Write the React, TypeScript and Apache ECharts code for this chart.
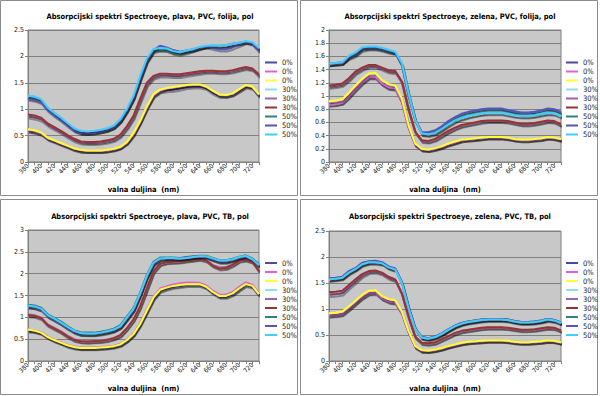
import React, { useEffect, useRef } from "react";
import * as echarts from "echarts";

const wavelengths = ["380","390","400","410","420","430","440","450","460","470","480","490","500","510","520","530","540","550","560","570","580","590","600","610","620","630","640","650","660","670","680","690","700","710","720","730"];
const seriesNames = ["0%", "0%", "0%", "30%", "30%", "30%", "50%", "50%", "50%"];
const seriesColors = ["#4b4b9b", "#e060d0", "#ffff33", "#8fdcec", "#9966aa", "#993333", "#338080", "#5555bb", "#44ccff"];
const axisName = "valna duljina  (nm)";

// Chart 1: plava, PVC, folija
const c1Navy = [0.59,0.57,0.53,0.44,0.39,0.34,0.29,0.24,0.21,0.21,0.21,0.21,0.22,0.24,0.28,0.37,0.53,0.76,1.03,1.25,1.34,1.36,1.37,1.39,1.42,1.43,1.43,1.4,1.31,1.25,1.25,1.28,1.35,1.43,1.4,1.25];
const c1Magenta = [0.6,0.58,0.54,0.45,0.4,0.35,0.3,0.25,0.22,0.21,0.21,0.21,0.22,0.24,0.28,0.37,0.53,0.76,1.03,1.26,1.35,1.39,1.41,1.43,1.45,1.46,1.46,1.42,1.34,1.27,1.26,1.29,1.37,1.45,1.42,1.27];
const c1Yellow = [0.62,0.6,0.56,0.46,0.41,0.36,0.31,0.26,0.23,0.22,0.22,0.22,0.23,0.25,0.29,0.38,0.55,0.78,1.05,1.28,1.37,1.4,1.42,1.44,1.46,1.47,1.47,1.43,1.35,1.28,1.27,1.3,1.38,1.46,1.43,1.28];
const c1Cyan = [1.24,1.22,1.17,1.01,0.91,0.82,0.72,0.62,0.57,0.56,0.57,0.59,0.62,0.67,0.79,0.99,1.24,1.6,1.93,2.12,2.14,2.13,2.08,2.07,2.1,2.13,2.17,2.19,2.2,2.19,2.2,2.23,2.25,2.28,2.26,2.15];
const c1Purple = [0.86,0.84,0.8,0.7,0.63,0.56,0.48,0.41,0.37,0.36,0.36,0.37,0.39,0.42,0.5,0.65,0.85,1.16,1.46,1.6,1.64,1.64,1.63,1.63,1.65,1.67,1.69,1.71,1.71,1.7,1.7,1.72,1.75,1.78,1.75,1.63];
const c1Red = [0.9,0.88,0.84,0.73,0.66,0.59,0.51,0.44,0.39,0.38,0.38,0.39,0.41,0.44,0.52,0.68,0.88,1.2,1.5,1.63,1.67,1.67,1.66,1.66,1.68,1.7,1.72,1.73,1.73,1.72,1.72,1.74,1.77,1.8,1.77,1.66];
const c1Teal = [1.22,1.2,1.15,1.0,0.9,0.81,0.71,0.61,0.56,0.55,0.56,0.58,0.61,0.66,0.78,0.98,1.22,1.58,1.91,2.1,2.13,2.12,2.07,2.05,2.08,2.12,2.16,2.19,2.2,2.2,2.21,2.24,2.26,2.28,2.25,2.12];
const c1Blue = [1.2,1.18,1.13,0.98,0.88,0.79,0.69,0.6,0.55,0.55,0.56,0.58,0.61,0.66,0.78,0.98,1.22,1.58,1.92,2.12,2.2,2.17,2.12,2.09,2.11,2.13,2.17,2.19,2.16,2.13,2.13,2.17,2.22,2.27,2.24,2.1];
const c1Sky = [1.26,1.24,1.19,1.03,0.93,0.84,0.74,0.64,0.59,0.58,0.59,0.61,0.64,0.69,0.81,1.01,1.26,1.63,1.96,2.14,2.16,2.15,2.1,2.08,2.11,2.14,2.18,2.2,2.21,2.2,2.21,2.24,2.26,2.29,2.27,2.16];

// Chart 2: zelena, PVC, folija
const c2Navy = [0.87,0.88,0.9,0.99,1.1,1.2,1.28,1.28,1.18,1.12,1.11,0.91,0.52,0.26,0.19,0.18,0.2,0.23,0.27,0.3,0.33,0.34,0.35,0.36,0.37,0.37,0.37,0.36,0.34,0.33,0.33,0.34,0.35,0.37,0.36,0.33];
const c2Magenta = [0.87,0.88,0.9,1.0,1.11,1.21,1.29,1.29,1.19,1.13,1.12,0.92,0.53,0.27,0.19,0.18,0.2,0.23,0.27,0.3,0.33,0.34,0.35,0.36,0.37,0.37,0.37,0.36,0.34,0.33,0.33,0.34,0.35,0.37,0.36,0.34];
const c2Yellow = [0.92,0.93,0.95,1.05,1.16,1.26,1.34,1.35,1.24,1.18,1.16,0.96,0.56,0.28,0.2,0.19,0.21,0.24,0.28,0.31,0.34,0.35,0.36,0.37,0.38,0.38,0.38,0.37,0.35,0.34,0.34,0.35,0.36,0.38,0.37,0.35];
const c2Cyan = [1.48,1.49,1.5,1.6,1.65,1.73,1.74,1.74,1.72,1.69,1.66,1.49,1.03,0.63,0.42,0.41,0.43,0.49,0.56,0.62,0.66,0.69,0.71,0.73,0.74,0.74,0.74,0.72,0.7,0.69,0.69,0.7,0.72,0.74,0.73,0.69];
const c2Purple = [1.14,1.15,1.17,1.25,1.35,1.41,1.45,1.45,1.41,1.37,1.36,1.2,0.78,0.45,0.32,0.31,0.34,0.4,0.46,0.51,0.55,0.57,0.59,0.61,0.62,0.62,0.62,0.61,0.59,0.57,0.57,0.58,0.6,0.62,0.61,0.56];
const c2Red = [1.16,1.17,1.19,1.27,1.37,1.43,1.47,1.47,1.43,1.39,1.38,1.22,0.8,0.46,0.33,0.32,0.35,0.41,0.47,0.52,0.56,0.58,0.6,0.62,0.63,0.63,0.63,0.62,0.6,0.58,0.58,0.59,0.61,0.63,0.62,0.57];
const c2Teal = [1.49,1.5,1.51,1.58,1.62,1.7,1.72,1.72,1.7,1.67,1.65,1.46,1.0,0.63,0.43,0.43,0.46,0.52,0.6,0.66,0.71,0.74,0.76,0.78,0.79,0.79,0.79,0.77,0.75,0.73,0.73,0.74,0.76,0.79,0.78,0.74];
const c2Blue = [1.48,1.49,1.5,1.59,1.64,1.72,1.73,1.73,1.71,1.68,1.66,1.48,1.02,0.65,0.45,0.45,0.48,0.54,0.62,0.68,0.73,0.76,0.78,0.8,0.81,0.81,0.81,0.79,0.77,0.75,0.75,0.76,0.78,0.81,0.8,0.76];
const c2Sky = [1.49,1.5,1.51,1.61,1.66,1.74,1.75,1.75,1.73,1.7,1.67,1.5,1.04,0.64,0.43,0.42,0.44,0.5,0.57,0.63,0.67,0.7,0.72,0.74,0.75,0.75,0.75,0.73,0.71,0.7,0.7,0.71,0.73,0.75,0.74,0.7];

// Chart 3: plava, PVC, TB
const c3Navy = [0.7,0.68,0.64,0.54,0.47,0.41,0.35,0.31,0.29,0.29,0.29,0.3,0.31,0.33,0.37,0.47,0.61,0.84,1.13,1.43,1.61,1.66,1.7,1.72,1.74,1.74,1.74,1.68,1.56,1.47,1.47,1.53,1.64,1.74,1.7,1.51];
const c3Magenta = [0.72,0.7,0.66,0.56,0.49,0.43,0.37,0.33,0.31,0.31,0.31,0.32,0.33,0.35,0.39,0.49,0.63,0.87,1.17,1.47,1.66,1.71,1.75,1.78,1.8,1.8,1.79,1.73,1.61,1.52,1.52,1.58,1.7,1.8,1.75,1.55];
const c3Yellow = [0.72,0.7,0.65,0.55,0.48,0.42,0.36,0.32,0.3,0.3,0.3,0.31,0.32,0.34,0.38,0.48,0.62,0.85,1.15,1.45,1.63,1.68,1.72,1.74,1.76,1.76,1.76,1.7,1.58,1.49,1.49,1.55,1.66,1.76,1.72,1.53];
const c3Cyan = [1.25,1.23,1.18,1.03,0.95,0.86,0.76,0.67,0.62,0.61,0.61,0.63,0.66,0.7,0.78,0.97,1.17,1.52,1.92,2.22,2.32,2.34,2.34,2.33,2.34,2.36,2.38,2.38,2.33,2.28,2.28,2.31,2.36,2.39,2.31,2.18];
const c3Purple = [1.07,1.05,1.0,0.84,0.76,0.68,0.58,0.5,0.46,0.45,0.46,0.47,0.49,0.53,0.6,0.76,0.96,1.26,1.66,2.06,2.23,2.27,2.28,2.29,2.31,2.33,2.35,2.31,2.2,2.14,2.15,2.22,2.31,2.34,2.28,2.08];
const c3Red = [1.05,1.03,0.98,0.82,0.74,0.66,0.56,0.48,0.45,0.44,0.45,0.46,0.48,0.52,0.59,0.75,0.95,1.25,1.65,2.05,2.22,2.26,2.27,2.28,2.3,2.32,2.34,2.3,2.18,2.12,2.13,2.2,2.3,2.32,2.27,2.06];
const c3Teal = [1.29,1.27,1.22,1.07,0.99,0.9,0.8,0.7,0.66,0.65,0.65,0.67,0.7,0.74,0.82,1.02,1.22,1.57,1.97,2.27,2.37,2.37,2.37,2.36,2.38,2.4,2.41,2.41,2.36,2.31,2.31,2.34,2.39,2.42,2.35,2.22];
const c3Blue = [1.25,1.23,1.18,1.03,0.95,0.86,0.76,0.67,0.62,0.62,0.62,0.64,0.67,0.71,0.79,0.98,1.18,1.53,1.93,2.23,2.33,2.35,2.35,2.35,2.37,2.39,2.4,2.39,2.33,2.28,2.28,2.32,2.37,2.4,2.32,2.18];
const c3Sky = [1.27,1.25,1.2,1.05,0.97,0.88,0.78,0.69,0.64,0.63,0.63,0.65,0.68,0.72,0.8,1.0,1.2,1.55,1.95,2.25,2.35,2.36,2.36,2.35,2.36,2.38,2.4,2.4,2.35,2.3,2.3,2.33,2.38,2.41,2.33,2.2];

// Chart 4: zelena, PVC, TB
const c4Navy = [0.87,0.88,0.9,1.0,1.11,1.22,1.3,1.31,1.2,1.14,1.12,0.91,0.55,0.27,0.19,0.19,0.21,0.24,0.28,0.31,0.34,0.36,0.37,0.38,0.39,0.39,0.39,0.38,0.36,0.35,0.35,0.36,0.37,0.39,0.38,0.35];
const c4Magenta = [0.88,0.89,0.91,1.01,1.12,1.23,1.31,1.32,1.21,1.15,1.13,0.92,0.56,0.28,0.2,0.19,0.21,0.24,0.28,0.31,0.34,0.36,0.37,0.38,0.39,0.39,0.39,0.38,0.36,0.35,0.35,0.36,0.37,0.39,0.38,0.35];
const c4Yellow = [0.92,0.93,0.95,1.05,1.16,1.27,1.35,1.36,1.25,1.19,1.17,0.95,0.58,0.29,0.21,0.2,0.22,0.25,0.29,0.32,0.35,0.37,0.38,0.39,0.4,0.4,0.4,0.39,0.37,0.36,0.36,0.37,0.38,0.4,0.39,0.36];
const c4Cyan = [1.56,1.57,1.59,1.69,1.76,1.85,1.89,1.89,1.87,1.79,1.75,1.49,1.01,0.61,0.44,0.42,0.45,0.51,0.59,0.66,0.71,0.74,0.76,0.78,0.79,0.79,0.79,0.78,0.75,0.73,0.73,0.74,0.76,0.79,0.77,0.72];
const c4Purple = [1.27,1.28,1.3,1.42,1.53,1.64,1.71,1.72,1.68,1.6,1.55,1.28,0.83,0.46,0.34,0.33,0.35,0.41,0.47,0.53,0.57,0.59,0.61,0.63,0.64,0.64,0.64,0.63,0.61,0.59,0.59,0.6,0.62,0.64,0.63,0.58];
const c4Red = [1.32,1.33,1.35,1.46,1.57,1.67,1.73,1.74,1.7,1.62,1.57,1.3,0.85,0.47,0.35,0.34,0.36,0.42,0.48,0.54,0.58,0.6,0.62,0.64,0.65,0.65,0.65,0.64,0.62,0.6,0.6,0.61,0.63,0.65,0.64,0.59];
const c4Teal = [1.58,1.59,1.61,1.72,1.78,1.88,1.91,1.92,1.89,1.81,1.77,1.51,1.03,0.63,0.46,0.44,0.47,0.53,0.61,0.68,0.73,0.76,0.78,0.8,0.81,0.81,0.81,0.8,0.77,0.75,0.75,0.76,0.78,0.81,0.79,0.74];
const c4Blue = [1.59,1.6,1.62,1.73,1.79,1.89,1.92,1.93,1.9,1.82,1.78,1.52,1.04,0.64,0.46,0.44,0.47,0.53,0.61,0.68,0.73,0.76,0.78,0.8,0.81,0.81,0.81,0.8,0.77,0.75,0.75,0.76,0.78,0.81,0.79,0.74];
const c4Sky = [1.57,1.58,1.6,1.7,1.77,1.86,1.9,1.9,1.88,1.8,1.76,1.5,1.02,0.62,0.45,0.43,0.46,0.52,0.6,0.67,0.72,0.75,0.77,0.79,0.8,0.8,0.8,0.79,0.76,0.74,0.74,0.75,0.77,0.8,0.78,0.73];

const FONT = "'DejaVu Sans Condensed', 'DejaVu Sans', sans-serif";

type Panel = {
  title: string;
  yMax: number;
  yStep: number;
  series: number[][];
  x: number;
  y: number;
  grid: { left: number; top: number; width: number; height: number };
  legendLeft: number;
  legendTop: number;
  titleTop: number;
};

const panels: Panel[] = [
  {
    title: "Absorpcijski spektri Spectroeye, plava, PVC, folija, pol",
    yMax: 2.5, yStep: 0.5,
    series: [c1Navy, c1Magenta, c1Yellow, c1Cyan, c1Purple, c1Red, c1Teal, c1Blue, c1Sky],
    x: 0, y: 0,
    grid: { left: 28, top: 30, width: 231, height: 132 },
    legendLeft: 265, legendTop: 58.5, titleTop: 7,
  },
  {
    title: "Absorpcijski spektri Spectroeye, zelena, PVC, folija, pol",
    yMax: 2, yStep: 0.2,
    series: [c2Navy, c2Magenta, c2Yellow, c2Cyan, c2Purple, c2Red, c2Teal, c2Blue, c2Sky],
    x: 300, y: 0,
    grid: { left: 29, top: 30, width: 232, height: 132 },
    legendLeft: 266, legendTop: 58.5, titleTop: 7,
  },
  {
    title: "Absorpcijski spektri Spectroeye, plava, PVC, TB, pol",
    yMax: 3, yStep: 0.5,
    series: [c3Navy, c3Magenta, c3Yellow, c3Cyan, c3Purple, c3Red, c3Teal, c3Blue, c3Sky],
    x: 0, y: 199,
    grid: { left: 28, top: 31, width: 231, height: 132 },
    legendLeft: 265, legendTop: 60, titleTop: 8,
  },
  {
    title: "Absorpcijski spektri Spectroeye, zelena, PVC, TB, pol",
    yMax: 2.5, yStep: 0.5,
    series: [c4Navy, c4Magenta, c4Yellow, c4Cyan, c4Purple, c4Red, c4Teal, c4Blue, c4Sky],
    x: 300, y: 199,
    grid: { left: 29, top: 32, width: 232, height: 131 },
    legendLeft: 266, legendTop: 60, titleTop: 8,
  },
];

function ChartPanel({ p }: { p: Panel }) {
  const ref = useRef<HTMLDivElement>(null);
  useEffect(() => {
    if (!ref.current) return;
    const chart = echarts.init(ref.current, undefined, { renderer: "svg" });
    const keys = seriesNames.map((n, i) => `${n}#${i}`);
    chart.setOption({
      animation: false,
      title: {
        text: p.title,
        left: "center",
        top: p.titleTop,
        textStyle: { fontSize: 7.5, fontWeight: "bold", color: "#000", fontFamily: FONT },
      },
      graphic: [
        {
          type: "rect",
          silent: true,
          shape: { x: 0.5, y: 0.5, width: 297, height: 195 },
          style: { fill: "none", stroke: "#8c8c8c", lineWidth: 1 },
        },
      ],
      grid: {
        left: p.grid.left,
        top: p.grid.top,
        width: p.grid.width,
        height: p.grid.height,
        show: true,
        backgroundColor: "#c8c8c8",
        borderColor: "#808080",
        borderWidth: 1,
      },
      legend: {
        orient: "vertical",
        left: p.legendLeft,
        top: p.legendTop,
        padding: 0,
        icon: "rect",
        itemWidth: 12,
        itemHeight: 2,
        itemGap: 1,
        data: keys,
        formatter: (name: string) => name.split("#")[0],
        textStyle: { fontSize: 7.5, color: "#222", fontFamily: FONT },
        selectedMode: false,
      },
      xAxis: {
        type: "category",
        data: wavelengths,
        boundaryGap: false,
        axisLine: { lineStyle: { color: "#808080" } },
        axisTick: { interval: 0, length: 3, lineStyle: { color: "#808080" } },
        axisLabel: { interval: 1, rotate: 45, fontSize: 6.5, color: "#222", margin: 3, fontFamily: FONT },
        name: axisName,
        nameLocation: "middle",
        nameGap: 23,
        nameTextStyle: { fontWeight: "bold", fontSize: 7.5, color: "#000", fontFamily: FONT },
      },
      yAxis: {
        type: "value",
        min: 0,
        max: p.yMax,
        interval: p.yStep,
        axisLine: { show: true, lineStyle: { color: "#808080" } },
        axisTick: { show: true, length: 3, lineStyle: { color: "#808080" } },
        splitLine: { lineStyle: { color: "#808080" } },
        axisLabel: { fontSize: 7, color: "#222", margin: 4, fontFamily: FONT },
      },
      series: p.series.map((d, i) => ({
        type: "line",
        name: keys[i],
        data: d,
        symbol: "none",
        showSymbol: false,
        lineStyle: {
          width: 2,
          color: seriesColors[i],
          shadowColor: "rgba(0,0,0,0.35)",
          shadowBlur: 1,
          shadowOffsetX: 1,
          shadowOffsetY: 2,
        },
        itemStyle: { color: seriesColors[i] },
        emphasis: { disabled: true },
      })),
    });
    return () => chart.dispose();
  }, [p]);
  return (
    <div
      ref={ref}
      style={{ position: "absolute", left: p.x, top: p.y, width: 300, height: 198 }}
    />
  );
}

export default function App() {
  return (
    <div style={{ position: "fixed", left: 0, top: 0, width: 600, height: 396, background: "#fff", overflow: "hidden" }}>
      {panels.map((p, i) => (
        <ChartPanel key={i} p={p} />
      ))}
    </div>
  );
}
